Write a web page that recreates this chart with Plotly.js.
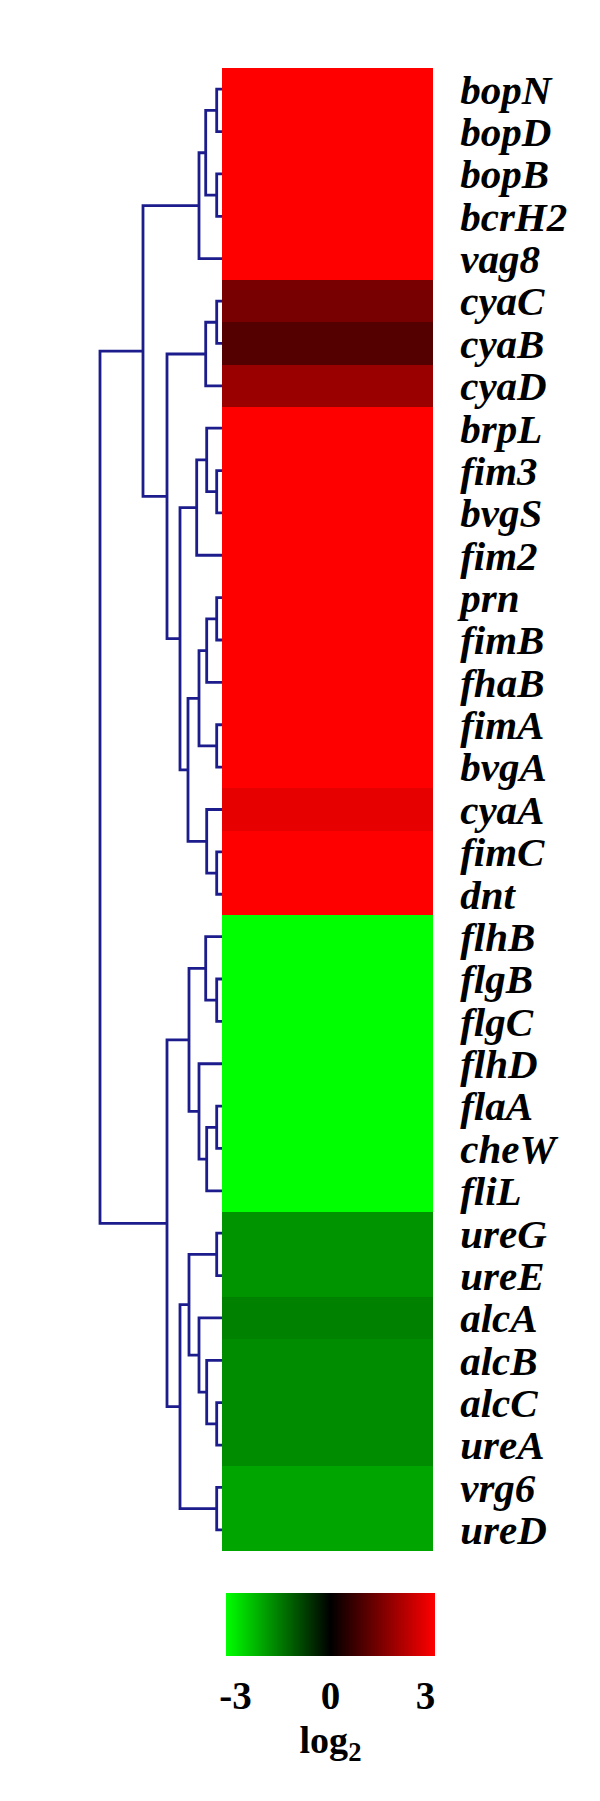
<!DOCTYPE html>
<html>
<head>
<meta charset="utf-8">
<script src="https://cdn.plot.ly/plotly-3.0.1.min.js"></script>
<style>html,body{margin:0;padding:0;background:#fff;}#chart{width:600px;height:1801px;}</style>
</head>
<body>
<div id="chart"></div>
<script>
// Genes (top to bottom)
const genes = ["bopN","bopD","bopB","bcrH2","vag8","cyaC","cyaB","cyaD","brpL","fim3",
  "bvgS","fim2","prn","fimB","fhaB","fimA","bvgA","cyaA","fimC","dnt",
  "flhB","flgB","flgC","flhD","flaA","cheW","fliL","ureG","ureE","alcA",
  "alcB","alcC","ureA","vrg6","ureD"];
// log2 expression values (estimated from colours; saturated cells at the scale ends)
const log2Values = [3.4,3.4,3.4,3.4,3.4,1.55,1.1,2.0,3.4,3.4,
  3.4,3.4,3.4,3.4,3.4,3.4,3.4,2.98,3.4,3.4,
  -3.4,-3.4,-3.4,-3.4,-3.4,-3.4,-3.4,-1.92,-1.92,-1.68,
  -1.81,-1.81,-1.81,-2.14,-2.14];
// Hierarchical clustering merges: [childA, childB, distance]; leaves 0..34, new nodes 35..
const merges = [
  [0,1,5.3],[2,3,5.3],[35,36,16.3],[37,4,23],
  [5,6,5.3],[39,7,16.3],
  [9,10,5.3],[8,41,15.3],[42,11,25.3],
  [12,13,5.3],[44,14,15.3],[15,16,5.3],[45,46,23],
  [18,19,5.3],[17,48,15.3],[47,49,34],[43,50,42],
  [40,51,55],[38,52,79],
  [21,22,5.3],[20,54,16.3],[24,25,5.3],[56,26,15.3],[23,57,23],[55,58,33],
  [27,28,5.3],[31,32,5.3],[30,61,15.3],[29,62,23],[60,63,33],
  [33,34,5.3],[64,65,42],[59,66,55],
  [53,67,122]
];
const colorTicks = [-3, 0, 3];
const colorTickText = ["-3", "0", "3"];

// Build dendrogram segments
const nLeaves = genes.length;
const pos = {}, hgt = {};
for (let i = 0; i < nLeaves; i++) { pos[i] = i; hgt[i] = 0; }
const dx = [], dy = [];
merges.forEach((m, k) => {
  const id = nLeaves + k, a = m[0], b = m[1], h = m[2];
  dx.push(hgt[a], h, h, hgt[b], null);
  dy.push(pos[a], pos[a], pos[b], pos[b], null);
  pos[id] = (pos[a] + pos[b]) / 2; hgt[id] = h;
});

const W = 600, H = 1801;
const hmLeft = 222, hmRight = 433, hmTop = 68, hmBottom = 1551;
const yDom = [1 - hmBottom / H, 1 - hmTop / H];
const serif = "Liberation Serif, Times New Roman, serif";

const heat = {
  type: 'heatmap',
  x: ['log2'],
  y: genes,
  z: log2Values.map(v => [v]),
  zmin: -3.3, zmax: 3.3,
  colorscale: [[0, '#00ff00'], [0.5, '#000000'], [1, '#ff0000']],
  xaxis: 'x', yaxis: 'y',
  hoverinfo: 'y+z',
  colorbar: {
    orientation: 'h',
    xref: 'container', yref: 'container',
    x: (226 + 435) / 2 / W, xanchor: 'center',
    y: 1 - 1583 / H, yanchor: 'top',
    len: 229, lenmode: 'pixels',
    thickness: 63, thicknessmode: 'pixels',
    outlinewidth: 0,
    tickvals: colorTicks,
    ticktext: colorTickText,
    ticks: 'outside', ticklen: 7, tickcolor: 'rgba(0,0,0,0)',
    tickfont: {family: serif, size: 39, weight: 'bold', color: '#000'},
    title: {text: 'log<sub>2</sub>', side: 'bottom', font: {family: serif, size: 38, weight: 'bold', color: '#000'}}
  }
};

const dendro = {
  type: 'scatter', mode: 'lines',
  x: dx, y: dy,
  xaxis: 'x2', yaxis: 'y2',
  line: {color: '#1c1c8c', width: 2.8},
  hoverinfo: 'skip',
  showlegend: false
};

const layout = {
  width: W, height: H,
  margin: {l: 0, r: 0, t: 0, b: 0, autoexpand: false},
  paper_bgcolor: '#fff', plot_bgcolor: 'rgba(0,0,0,0)',
  showlegend: false,
  xaxis: {domain: [hmLeft / W, hmRight / W], showticklabels: false, showgrid: false, zeroline: false, ticks: '', fixedrange: true},
  yaxis: {domain: yDom, type: 'category', range: [genes.length - 0.5, -0.5], side: 'right',
    tickmode: 'array', tickvals: genes, ticktext: genes, automargin: false,
    showgrid: false, zeroline: false, ticks: 'outside', ticklen: 18, tickcolor: 'rgba(0,0,0,0)',
    tickfont: {family: serif, size: 41, weight: 'bold', style: 'italic', color: '#000'}},
  xaxis2: {domain: [90 / W, hmLeft / W], range: [132, 0], visible: false},
  yaxis2: {domain: yDom, range: [genes.length - 0.5, -0.5], visible: false, anchor: 'x2'}
};

Plotly.newPlot('chart', [dendro, heat], layout, {staticPlot: true, displayModeBar: false});
</script>
</body>
</html>
